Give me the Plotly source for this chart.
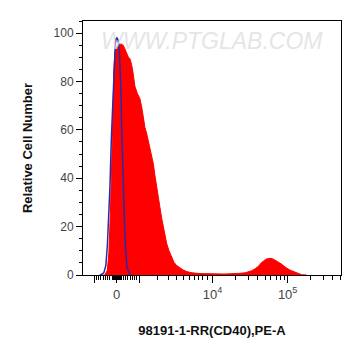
import plotly.graph_objects as go

# x positions are in display (logicle-like) units: 0 -> 0, one decade ~ 1.0
red_x = [-0.223, -0.156, -0.123, -0.103, -0.083, -0.059, -0.045, -0.036, -0.023, -0.003, 0.024, 0.057,
         0.088, 0.110, 0.133, 0.157, 0.177, 0.191, 0.200, 0.217, 0.244, 0.277, 0.310, 0.337, 0.355,
         0.377, 0.400, 0.424, 0.444, 0.464, 0.489, 0.511, 0.533, 0.557, 0.577, 0.600, 0.622, 0.644,
         0.667, 0.698, 0.734, 0.765, 0.801, 0.845, 0.885, 0.934, 1.004, 1.110, 1.244, 1.351, 1.431,
         1.511, 1.577, 1.644, 1.711, 1.751, 1.800, 1.844, 1.888, 1.921, 1.951, 1.987, 2.021, 2.057,
         2.088, 2.124, 2.155, 2.190, 2.221, 2.257, 2.311, 2.377, 2.410, 2.464, 2.530]
red_y = [0.0, 0.0, 2.0, 9.0, 25.0, 50.0, 70.0, 85.0, 92.0, 94.0, 95.0, 95.5,
         95.0, 93.5, 92.0, 90.0, 89.5, 88.0, 87.0, 84.0, 78.0, 75.0, 73.0, 69.0, 65.0,
         61.0, 58.6, 55.0, 52.0, 49.0, 46.0, 41.0, 36.0, 32.0, 28.0, 23.5, 20.0, 16.5,
         13.0, 10.0, 7.4, 5.2, 3.9, 2.9, 2.1, 1.4, 0.9, 0.6, 0.4, 0.3, 0.4,
         0.5, 0.5, 0.7, 0.9, 1.2, 1.8, 2.6, 3.6, 4.9, 5.8, 6.5, 6.8, 6.9,
         6.5, 6.0, 5.3, 4.6, 3.8, 3.0, 2.0, 1.2, 0.6, 0.1, 0.0]

blue_x = [-0.223, -0.196, -0.169, -0.143, -0.123, -0.103, -0.089, -0.069, -0.045, -0.029, -0.016,
          -0.007, 0.004, 0.021, 0.033, 0.044, 0.057, 0.067, 0.077, 0.088, 0.104, 0.120, 0.137, 0.177]
blue_y = [0.0, 0.3, 1.0, 4.0, 12.0, 25.0, 36.0, 57.0, 78.0, 90.0, 96.0,
          97.5, 98.0, 97.0, 94.0, 87.0, 78.0, 62.0, 50.0, 36.0, 23.0, 11.0, 3.5, 0.0]

# tick positions in display units
x_label_pos = [0.0, 1.277, 2.277]
x_label_txt = ["0", "10<sup>4</sup>", "10<sup>5</sup>"]
x_unlabeled_major = [-0.299, 0.299]
x_minor_pos = ([-0.299 + 0.0299 * k for k in range(1, 10)] +
               [-0.05, -0.035, -0.02, -0.01, 0.01, 0.02, 0.035, 0.05] +
               [0.0299 * k for k in range(1, 10)] +
               [0.548, 0.694, 0.797, 0.888, 0.969, 1.032, 1.090, 1.140, 1.210] +
               [1.578, 1.754, 1.879, 1.976, 2.055, 2.122, 2.180, 2.231] +
               [2.578, 2.754, 2.879, 2.976])
y_major = [0, 20, 40, 60, 80, 100]
x_range = [-0.447, 2.987]

fig = go.Figure()
fig.add_trace(go.Scatter(x=red_x, y=red_y, mode="lines", fill="tozeroy",
                         line=dict(color="#ff0000", width=1), fillcolor="#ff0000",
                         hoverinfo="skip"))
fig.add_trace(go.Scatter(x=blue_x, y=blue_y, mode="lines",
                         line=dict(color="#2a2aa8", width=1.5), hoverinfo="skip"))
# invisible trace holding the secondary x axis (unlabelled major ticks)
fig.add_trace(go.Scatter(x=[x_range[0]], y=[0], xaxis="x2", mode="markers",
                         marker=dict(opacity=0), hoverinfo="skip"))

fig.update_layout(
    width=361, height=356,
    margin=dict(l=75, r=28, t=13, b=89),
    paper_bgcolor="white", plot_bgcolor="white",
    showlegend=False,
    font=dict(family="Liberation Sans, Arial, sans-serif", color="#333333", size=12),
    xaxis=dict(
        range=x_range, showgrid=False, zeroline=False,
        showline=True, linecolor="black", linewidth=1, mirror=True,
        ticks="outside", ticklen=7, tickcolor="black", tickwidth=1,
        tickmode="array", tickvals=x_label_pos, ticktext=x_label_txt,
        tickfont=dict(size=13, color="#444444"),
        minor=dict(tickmode="array", tickvals=x_minor_pos, ticks="outside",
                   ticklen=4, tickcolor="black", tickwidth=1),
        title=dict(text="<b>98191-1-RR(CD40),PE-A</b>", font=dict(size=13, color="#111111"),
                   standoff=25),
    ),
    xaxis2=dict(
        range=x_range, overlaying="x", side="bottom", anchor="y",
        showgrid=False, zeroline=False, showline=False, showticklabels=False,
        ticks="outside", ticklen=7, tickcolor="black", tickwidth=1,
        tickmode="array", tickvals=x_unlabeled_major,
    ),
    yaxis=dict(
        range=[0, 105], showgrid=False, zeroline=False,
        showline=True, linecolor="black", linewidth=1, mirror=True,
        ticks="outside", ticklen=6, tickcolor="black", tickwidth=1,
        tickmode="array", tickvals=y_major,
        tickfont=dict(size=12, color="#444444"),
        minor=dict(dtick=5, ticks="outside", ticklen=3, tickcolor="black", tickwidth=1),
        title=dict(text="<b>Relative Cell Number</b>", font=dict(size=13, color="#111111"),
                   standoff=18),
    ),
)

fig.add_annotation(text="<i>WWW.PTGLAB.COM</i>", xref="paper", yref="paper",
                   x=0.5, y=0.92, xanchor="center", yanchor="middle", showarrow=False,
                   font=dict(size=23, color="rgba(222,222,222,0.8)",
                             family="Liberation Sans, Arial, sans-serif"))

fig.write_html("out.html")
